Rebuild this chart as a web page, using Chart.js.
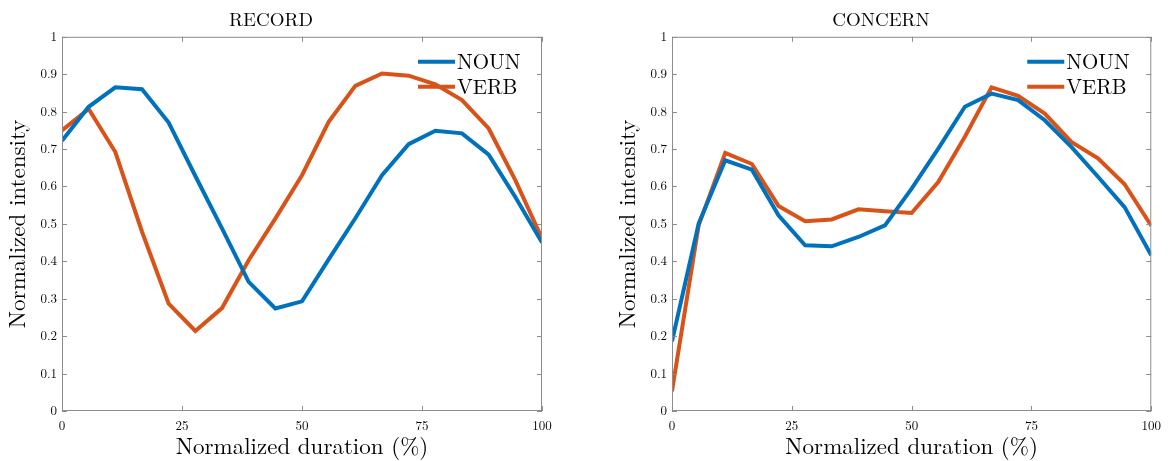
<!DOCTYPE html>
<html>
<head>
<meta charset="utf-8">
<script src="https://cdn.jsdelivr.net/npm/chart.js@4"></script>
<style>
  body { margin: 0; background: #fff; }
  .wrap { position: absolute; top: 0; height: 461px; }
</style>
</head>
<body>
<div class="wrap" style="left:0;width:580px"><canvas id="recordChart"></canvas></div>
<div class="wrap" style="left:610px;width:558px"><canvas id="concernChart"></canvas></div>
<script>
// normalized duration (%), 19 samples
const duration = [0, 5.56, 11.11, 16.67, 22.22, 27.78, 33.33, 38.89, 44.44, 50, 55.56, 61.11, 66.67, 72.22, 77.78, 83.33, 88.89, 94.44, 100];

const recordNoun = [0.722, 0.813, 0.865, 0.860, 0.771, 0.628, 0.488, 0.345, 0.274, 0.293, 0.405, 0.515, 0.630, 0.713, 0.749, 0.742, 0.685, 0.572, 0.450];
const recordVerb = [0.750, 0.807, 0.692, 0.479, 0.287, 0.214, 0.275, 0.403, 0.514, 0.630, 0.773, 0.869, 0.902, 0.896, 0.873, 0.831, 0.755, 0.617, 0.461];

const concernNoun = [0.186, 0.501, 0.670, 0.645, 0.523, 0.443, 0.440, 0.465, 0.496, 0.594, 0.701, 0.813, 0.848, 0.831, 0.777, 0.706, 0.626, 0.545, 0.416];
const concernVerb = [0.053, 0.496, 0.690, 0.660, 0.548, 0.507, 0.512, 0.539, 0.534, 0.529, 0.612, 0.733, 0.865, 0.842, 0.795, 0.719, 0.675, 0.606, 0.495];

const xTicks = [0, 25, 50, 75, 100];
const yTicks = [0, 0.1, 0.2, 0.3, 0.4, 0.5, 0.6, 0.7, 0.8, 0.9, 1];
const yTickLabels = ['0', '0.1', '0.2', '0.3', '0.4', '0.5', '0.6', '0.7', '0.8', '0.9', '1'];

const FONT = '"Latin Modern Roman", "DejaVu Serif", "Liberation Serif", serif';
const BLUE = '#0072BD';
const ORANGE = '#D95319';

// box around the plot with matlab-style inward ticks, plus the in-plot legend
const matlabAxes = {
    id: 'matlabAxes',
    afterDatasetsDraw(chart) {
        const { ctx, chartArea: a, scales } = chart;
        ctx.save();
        ctx.strokeStyle = '#8c8c8c';
        ctx.lineWidth = 1;
        ctx.strokeRect(a.left + 0.5, a.top + 0.5, a.right - a.left - 1, a.bottom - a.top - 1);
        ctx.beginPath();
        scales.x.ticks.forEach(t => {
            const px = Math.round(scales.x.getPixelForValue(t.value)) + 0.5;
            ctx.moveTo(px, a.bottom); ctx.lineTo(px, a.bottom - 5);
            ctx.moveTo(px, a.top); ctx.lineTo(px, a.top + 5);
        });
        scales.y.ticks.forEach(t => {
            const py = Math.round(scales.y.getPixelForValue(t.value)) + 0.5;
            ctx.moveTo(a.left, py); ctx.lineTo(a.left + 5, py);
            ctx.moveTo(a.right, py); ctx.lineTo(a.right - 5, py);
        });
        ctx.stroke();

        // legend
        ctx.font = '21px ' + FONT;
        ctx.textBaseline = 'middle';
        chart.data.datasets.forEach((ds, i) => {
            const y = a.top + 25 + i * 25;
            const x0 = a.right - 124;
            ctx.strokeStyle = ds.borderColor;
            ctx.lineWidth = 4;
            ctx.beginPath();
            ctx.moveTo(x0, y); ctx.lineTo(x0 + 37, y);
            ctx.stroke();
            ctx.fillStyle = '#000';
            ctx.fillText(ds.label, x0 + 39, y + 1);
        });
        ctx.restore();
    }
};

function makeChart(id, title, noun, verb, rightPad) {
    const ctx = document.getElementById(id).getContext('2d');
    return new Chart(ctx, {
        type: 'line',
        data: {
            datasets: [
                {
                    label: 'NOUN',
                    data: duration.map((d, i) => ({ x: d, y: noun[i] })),
                    borderColor: BLUE,
                    borderWidth: 4,
                    pointRadius: 0,
                    tension: 0
                },
                {
                    label: 'VERB',
                    data: duration.map((d, i) => ({ x: d, y: verb[i] })),
                    borderColor: ORANGE,
                    borderWidth: 4,
                    pointRadius: 0,
                    tension: 0
                }
            ]
        },
        options: {
            responsive: true,
            maintainAspectRatio: false,
            animation: false,
            layout: { padding: { left: 0, right: rightPad, top: 0, bottom: 0 } },
            plugins: {
                legend: { display: false },
                tooltip: { enabled: false },
                title: {
                    display: true,
                    text: title,
                    color: '#000',
                    font: { family: FONT, size: 19, weight: 'normal' },
                    padding: { top: 9, bottom: 5 }
                }
            },
            scales: {
                x: {
                    type: 'linear',
                    min: 0,
                    max: 100,
                    grid: { display: false, drawTicks: false },
                    border: { display: false },
                    afterBuildTicks: s => { s.ticks = xTicks.map(v => ({ value: v })); },
                    afterFit: s => { s.height = 50; },
                    ticks: {
                        color: '#000',
                        padding: 7,
                        maxRotation: 0,
                        font: { family: FONT, size: 13 }
                    },
                    title: {
                        display: true,
                        text: 'Normalized duration (%)',
                        color: '#000',
                        font: { family: FONT, size: 23 },
                        padding: { top: 0, bottom: 0 }
                    }
                },
                y: {
                    min: 0,
                    max: 1,
                    grid: { display: false, drawTicks: false },
                    border: { display: false },
                    afterBuildTicks: s => { s.ticks = yTicks.map(v => ({ value: v })); },
                    afterFit: s => { s.width = 62; },
                    ticks: {
                        color: '#000',
                        padding: 5,
                        font: { family: FONT, size: 13 },
                        callback: (v) => yTickLabels[yTicks.indexOf(v)] ?? ''
                    },
                    title: {
                        display: true,
                        text: 'Normalized intensity',
                        color: '#000',
                        font: { family: FONT, size: 23 },
                        padding: { top: 4, bottom: 4 }
                    }
                }
            }
        },
        plugins: [matlabAxes]
    });
}

makeChart('recordChart', 'RECORD', recordNoun, recordVerb, 38);
makeChart('concernChart', 'CONCERN', concernNoun, concernVerb, 16);
</script>
</body>
</html>
